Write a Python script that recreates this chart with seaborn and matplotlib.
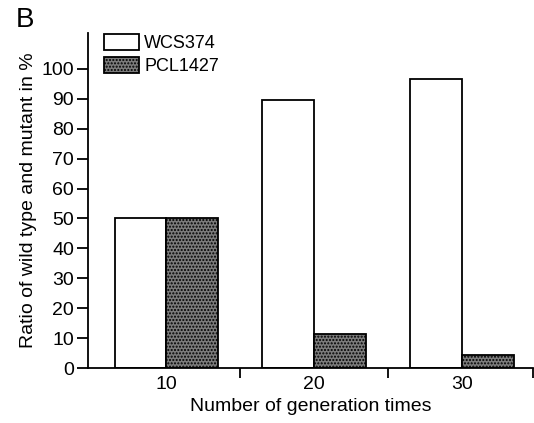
import pandas as pd
import seaborn as sns
import matplotlib.pyplot as plt

# valores
generations = ['10', '20', '30']
wcs374 = [50, 89.5, 96.5]
pcl1427 = [50, 11.5, 4.5]

df = pd.DataFrame({
    'gen': generations * 2,
    'ratio': wcs374 + pcl1427,
    'strain': ['WCS374'] * 3 + ['PCL1427'] * 3,
})

sns.set_style('ticks')
plt.rcParams['font.family'] = ['Liberation Sans', 'DejaVu Sans']
plt.rcParams['text.color'] = 'black'
plt.rcParams['axes.labelcolor'] = 'black'
plt.rcParams['xtick.color'] = 'black'
plt.rcParams['ytick.color'] = 'black'
plt.rcParams['axes.edgecolor'] = 'black'
plt.rcParams['hatch.color'] = '#2a2a2a'

fig = plt.figure(figsize=(5.34, 4.23), dpi=100)
ax = fig.add_axes([0.165, 0.13, 0.833, 0.792])

sns.barplot(data=df, x='gen', y='ratio', hue='strain', width=0.7,
            palette=['white', '#7c7c7c'], edgecolor='black', linewidth=1.3,
            ax=ax)

for bar in ax.patches[3:6]:
    bar.set_hatch('.....')

ax.set_ylim(0, 112)
ax.set_xlim(-0.53, 2.48)
ax.set_yticks(range(0, 101, 10))
ax.tick_params(axis='y', labelsize=14, length=8, width=1.3, direction='out', pad=2)
ax.tick_params(axis='x', labelsize=14, length=0, pad=6)
# marcas entre os grupos no eixo x
ax.set_xticks([0.5, 1.5, 2.48], minor=True)
ax.tick_params(axis='x', which='minor', length=7, width=1.3)
sns.despine(ax=ax)
ax.spines['left'].set_linewidth(1.3)
ax.spines['bottom'].set_linewidth(1.3)

ax.set_xlabel('Number of generation times', fontsize=14, labelpad=3)
ax.set_ylabel('Ratio of wild type and mutant in %', fontsize=14, labelpad=3)

leg = ax.legend(loc='upper left', bbox_to_anchor=(0.0, 1.045), frameon=False,
                fontsize=13, handlelength=1.9, handleheight=1.0,
                handletextpad=0.3, labelspacing=0.25, title=None)
for h in leg.legend_handles[1:]:
    h.set_hatch('.....')

fig.text(0.03, 0.935, 'B', fontsize=20)

plt.savefig('out.png', dpi=100)
